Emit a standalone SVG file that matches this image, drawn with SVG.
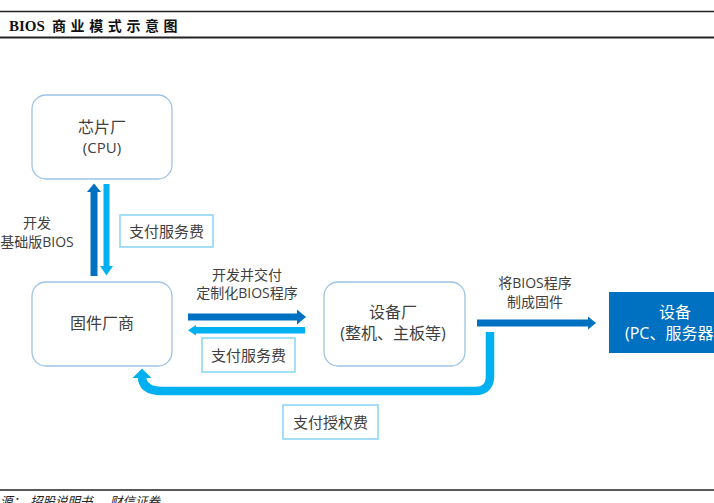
<svg xmlns="http://www.w3.org/2000/svg" width="714" height="503" viewBox="0 0 714 503">
<style>
.node{fill:#ffffff;stroke:#9DC3E6;stroke-width:1.3}
.lbl{fill:#ffffff;stroke:#8ED6F5;stroke-width:1.6}
.t{font-family:"Open Sans","Noto Sans CJK SC",sans-serif;fill:#404040;text-anchor:middle}
.dark{fill:#0070C0}
.light{fill:#00B0F0}
</style>
<rect width="714" height="503" fill="#ffffff"/>
<g id="header">
<line x1="0" y1="11.5" x2="714" y2="11.5" stroke="#222" stroke-width="1.5"/>
<line x1="0" y1="37.5" x2="714" y2="37.5" stroke="#222" stroke-width="2"/>
<text x="9" y="31" font-family="'Liberation Serif','Noto Sans CJK SC',serif" font-weight="bold" font-size="15" fill="#111">BIOS<tspan x="52" font-family="'Noto Sans CJK SC',sans-serif" font-size="14" letter-spacing="4.6">商业模式示意图</tspan></text>
</g>
<g id="footer">
<line x1="0" y1="490" x2="714" y2="490" stroke="#222" stroke-width="1.5"/>
<text y="506" font-family="'Noto Sans CJK SC',sans-serif" font-size="12.5" font-style="italic" fill="#222"><tspan x="0">源：</tspan><tspan x="30">招股说明书，</tspan><tspan x="110">财信证券</tspan></text>
</g>
<g id="connectors">
<rect class="dark" x="90.5" y="191" width="7" height="85"/>
<polygon class="dark" points="87,192 94,183.5 101,192"/>
<rect class="light" x="103.5" y="184" width="6" height="83"/>
<polygon class="light" points="100,266 106.5,275.5 113,266"/>
<rect class="dark" x="188" y="313.5" width="110" height="7"/>
<polygon class="dark" points="297,309.5 306,317 297,324.5"/>
<rect class="light" x="195" y="327" width="110" height="6.5"/>
<polygon class="light" points="196,325 188,330.2 196,335.5"/>
<rect class="dark" x="477" y="319.5" width="112" height="7"/>
<polygon class="dark" points="588,316.5 596,323 588,329.5"/>
<path d="M490,332 L490,376 Q490,391 475,391 L162,391 Q142,391 142,376" fill="none" stroke="#00B0F0" stroke-width="8.5"/>
<polygon class="light" points="132.5,378 142,368.5 151.5,378"/>
</g>
<g id="chip">
<rect class="node" x="32" y="95" width="140" height="84" rx="14"/>
<text class="t" x="102" y="133" font-size="16">芯片厂</text>
<text class="t" x="102" y="153" font-size="15">(CPU)</text>
</g>
<g id="firmware">
<rect class="node" x="32" y="282" width="140" height="84" rx="14"/>
<text class="t" x="102" y="329" font-size="16">固件厂商</text>
</g>
<g id="devmaker">
<rect class="node" x="324" y="282" width="141" height="84" rx="14"/>
<text class="t" x="393" y="318" font-size="16">设备厂</text>
<text class="t" x="393" y="339" font-size="16">(整机、主板等)</text>
</g>
<g id="device">
<rect x="609" y="292" width="110" height="61" fill="#0070C0"/>
<text class="t" x="675" y="318" font-size="16" style="fill:#ffffff">设备</text>
<text x="625" y="339" font-size="16" font-family="'Open Sans','Noto Sans CJK SC',sans-serif" fill="#ffffff">(PC、服务器</text>
</g>
<g id="labels">
<text class="t" x="37" y="228" font-size="14">开发</text>
<text class="t" x="37" y="247" font-size="14">基础版BIOS</text>
<rect class="lbl" x="120" y="215" width="93" height="32"/>
<text class="t" x="166.5" y="237" font-size="15">支付服务费</text>
<text class="t" x="247" y="280" font-size="14">开发并交付</text>
<text class="t" x="247" y="298" font-size="14">定制化BIOS程序</text>
<rect class="lbl" x="202" y="338" width="93" height="34"/>
<text class="t" x="248.5" y="361" font-size="15">支付服务费</text>
<text class="t" x="535" y="288" font-size="14">将BIOS程序</text>
<text class="t" x="535" y="307" font-size="14">制成固件</text>
<rect class="lbl" x="283" y="405" width="95" height="34"/>
<text class="t" x="330.5" y="428" font-size="15">支付授权费</text>
</g>
</svg>
